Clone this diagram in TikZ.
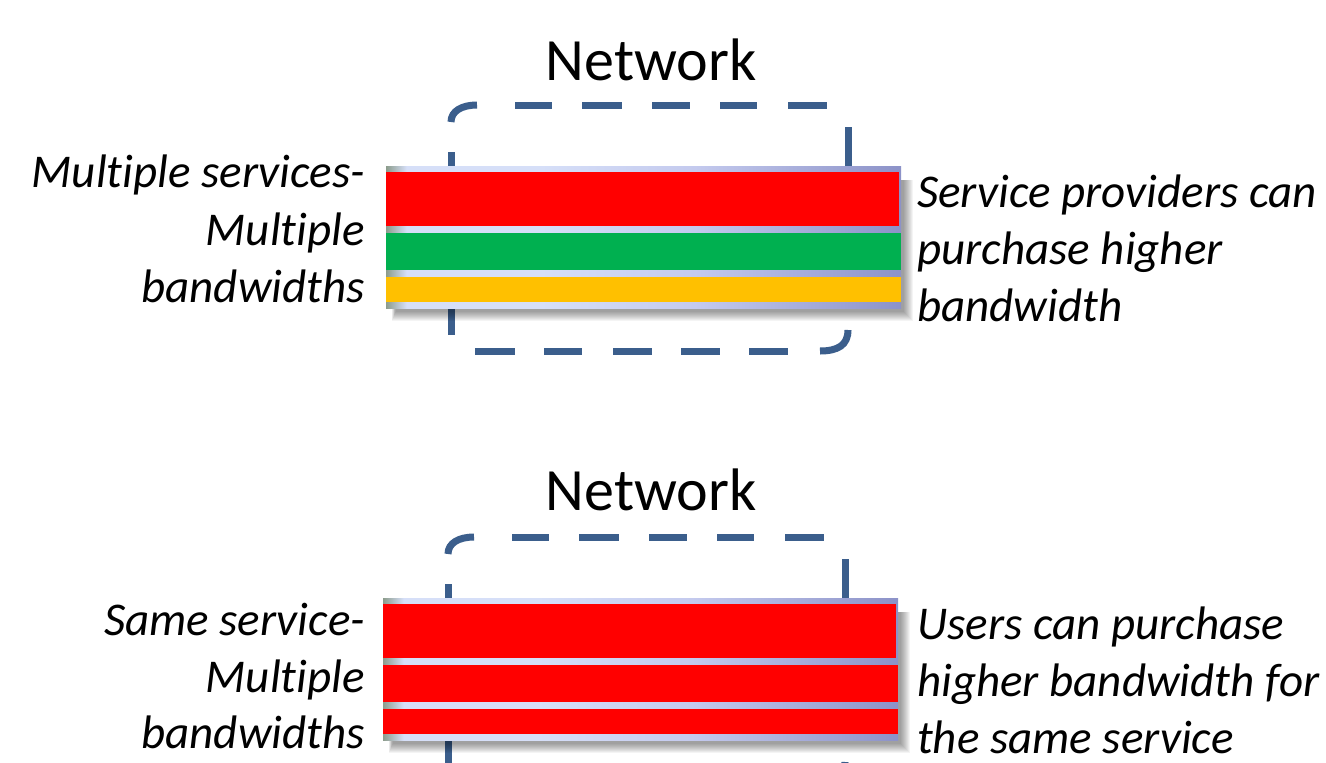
\documentclass[tikz,border=0pt]{standalone}
\usepackage{fontspec}
\setmainfont{Carlito}[Ligatures=NoCommon]
\definecolor{netblue}{RGB}{59,94,140}
\definecolor{barred}{RGB}{255,0,0}
\definecolor{bargreen}{RGB}{0,176,80}
\definecolor{baryellow}{RGB}{255,192,0}
\definecolor{sA}{RGB}{140,156,140}
\definecolor{sB}{RGB}{214,223,248}
\definecolor{sC}{RGB}{196,202,238}
\definecolor{sD}{RGB}{140,146,200}
\pgfdeclarehorizontalshading{stripeshade}{100bp}{color(0bp)=(sA); color(25bp)=(sA); color(27bp)=(sB); color(40bp)=(sB); color(55bp)=(sC); color(75bp)=(sD); color(100bp)=(sD)}
\newcommand{\netframe}{%
  \draw[frame] (451,122) .. controls (451,111) and (462,105) .. (477,105);
  \foreach \a/\b in {515/552,582/622,652/690,720/757,788/827}
    \draw[frame] (\a,105) -- (\b,105);
  \draw[frame] (848,127) -- (848,180);
  \draw[frame] (451,152) -- (451,180);
  \draw[frame] (451,295) -- (451,335);
  \draw[frame] (848,330) .. controls (848,345) and (838,351) .. (820,351);
  \foreach \a/\b in {475/515,544/582,613/652,681/720,749/788}
    \draw[frame] (\a,351) -- (\b,351);
}
\newcommand{\barshadow}{%
  \foreach \r in {0,...,9}
    \fill[black,opacity=0.045] ({392+\r*0.4},{180}) rectangle ({913-\r},{321-\r});
}
\begin{document}
\begin{tikzpicture}[x=1pt,y=-1pt,
  frame/.style={draw=netblue,line width=7pt,line cap=butt},
  lbl/.style={font=\fontsize{47}{57}\selectfont\itshape,inner sep=0pt},
  netlbl/.style={font=\fontsize{60}{70}\selectfont,inner sep=0pt},
  stripe/.style={shading=stripeshade}]
\useasboundingbox (0,0) rectangle (1326,763);
\fill[white] (0,0) rectangle (1326,763);

% ---------- top diagram ----------
\node[netlbl,anchor=base] (net1) at (651,80) {Network};
\netframe
\barshadow
\shade[stripe] (386,166) rectangle (901,308);
\fill[barred] (386,172) rectangle (899,226);
\fill[bargreen] (386,233) rectangle (901,270);
\fill[baryellow] (386,277) rectangle (901,302);

\node[lbl,anchor=base east] (l1a) at (365,187) {Multiple services-};
\node[lbl,anchor=base east] (l1b) at (365,245) {Multiple};
\node[lbl,anchor=base east] (l1c) at (365,302) {bandwidths};
\node[lbl,anchor=base west] (r1a) at (917,207) {Service providers can};
\node[lbl,anchor=base west] (r1b) at (917,264) {purchase higher};
\node[lbl,anchor=base west] (r1c) at (917,321) {bandwidth};

% ---------- bottom diagram ----------
\node[netlbl,anchor=base] (net2) at (651,510) {Network};
\begin{scope}[shift={(-3,432)}]
\netframe
\barshadow
\shade[stripe] (386,166) rectangle (901,308);
\fill[barred] (386,172) rectangle (899,226);
\fill[barred] (386,233) rectangle (901,270);
\fill[barred] (386,277) rectangle (901,302);
\end{scope}

\node[lbl,anchor=base east] (l2a) at (365,635) {Same service-};
\node[lbl,anchor=base east] (l2b) at (365,692) {Multiple};
\node[lbl,anchor=base east] (l2c) at (365,748) {bandwidths};
\node[lbl,anchor=base west] (r2a) at (917,639) {Users can purchase};
\node[lbl,anchor=base west] (r2b) at (917,696) {higher bandwidth for};
\node[lbl,anchor=base west] (r2c) at (917,753) {the same service};
\end{tikzpicture}
\end{document}
